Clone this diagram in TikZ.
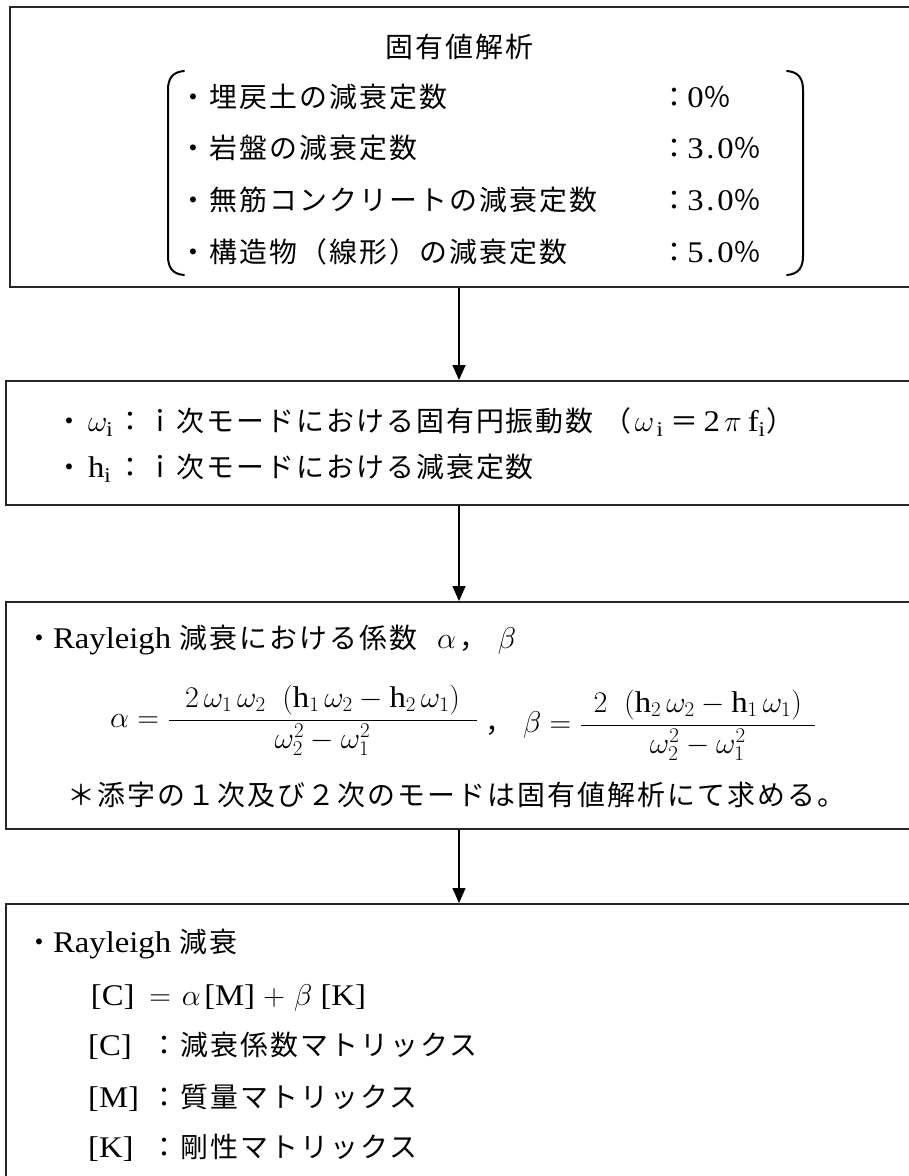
\RequirePackage{fix-cm}
\documentclass[tikz,border=0pt]{standalone}
\usepackage{amsmath}
\usepackage{fontspec}
\setmainfont{Noto Sans CJK JP}[Scale=0.93,LetterSpace=7.5]
\newfontfamily\lat{Liberation Serif}[FakeStretch=1.09]
\usetikzlibrary{arrows.meta}
\newcommand{\hc}[1]{\makebox[15pt][c]{\lat #1}}
\newcommand{\hh}{\text{\lat h}}
\newcommand{\ii}{\text{\lat i}}
\tikzset{
  box/.style={draw=black!85,line width=2.2pt,inner sep=0pt,anchor=north west},
  flow/.style={-{Triangle[length=15pt,width=13pt]},line width=1.6pt},
  txt/.style={anchor=west,inner sep=0pt,text height=24.5pt,text depth=3.4pt,font=\fontsize{30}{36}\selectfont},
  ctxt/.style={txt,anchor=center},
  paren/.style={line width=2pt,line cap=round}
}
\begin{document}
\begin{tikzpicture}[x=1pt,y=-1pt]
\useasboundingbox (0,0) rectangle (909,1176);
\begin{scope}
\clip (0,0) rectangle (909,1176);
% boxes
\node[box,minimum width=925pt,minimum height=280pt] (b1) at (9,6) {};
\node[box,minimum width=927pt,minimum height=124pt] (b2) at (5,380) {};
\node[box,minimum width=927pt,minimum height=227pt] (b3) at (5,601) {};
\node[box,minimum width=927pt,minimum height=297pt] (b4) at (5,903) {};
\coordinate (ax) at (459,0);
% arrows
\draw[flow] (b1.south -| ax) -- (b2.north -| ax);
\draw[flow] (b2.south -| ax) -- (b3.north -| ax);
\draw[flow] (b3.south -| ax) -- (b4.north -| ax);
% box 1
\node[ctxt] (t1) at (459,47) {固有値解析};
\draw[paren] (184,71) .. controls (172,72) and (168,79) .. (168,90) -- (168,256) .. controls (168,267) and (172,274) .. (184,275);
\draw[paren] (787,71) .. controls (799,72) and (803,79) .. (803,90) -- (803,256) .. controls (803,267) and (799,274) .. (787,275);
\node[txt] (l1) at (179,97) {・埋戻土の減衰定数};
\node[txt] (l2) at (179,148) {・岩盤の減衰定数};
\node[txt] (l3) at (179,200) {・無筋コンクリートの減衰定数};
\node[txt] (l4) at (179,252) {・構造物（線形）の減衰定数};
\node[txt] (v1) at (660,97) {：\hc{0}％};
\node[txt] (v2) at (660,148) {：\hc{3}\hc{.}\hc{0}％};
\node[txt] (v3) at (660,200) {：\hc{3}\hc{.}\hc{0}％};
\node[txt] (v4) at (660,252) {：\hc{5}\hc{.}\hc{0}％};
% box 2
\node[txt] (m1) at (55,421) {・\makebox[33pt][l]{\hspace{5pt}$\omega_{\ii}$}：ｉ次モードにおける固有円振動数\hspace{10pt}（\hspace{3pt}\makebox[36pt][l]{$\omega_{\,\ii}$}＝\hspace{5pt}{\lat 2}\hspace{4pt}$\pi$\hspace{6pt}{\lat f}$_{\ii}$\hspace{1pt}）};
\node[txt] (m2) at (55,467) {・\makebox[33pt][l]{\hspace{5pt}{\lat h}$_{\ii}$}：ｉ次モードにおける減衰定数};
% box 3
\node[txt] (r1) at (25,638) {・{\lat Rayleigh}\hspace{8pt}減衰における係数\hspace{20pt}$\alpha$\hspace{4pt}，\hspace{10pt}$\beta$};
\node[inner sep=0pt,anchor=west,font=\fontsize{30}{36}\selectfont] (fa) at (110,720) {$\alpha=\dfrac{\makebox[308pt]{$2\,\omega_1\,\omega_2\;\;(\hh_1\,\omega_2-\hh_2\,\omega_1)$}}{\omega_2^2-\omega_1^2}$};
\node[txt] (fb) at (485,722) {，\hspace{10pt}$\beta=\dfrac{\makebox[234pt]{$2\;\;(\hh_2\,\omega_2-\hh_1\,\omega_1)$}}{\omega_2^2-\omega_1^2}$};
\node[txt] (r3) at (67,795) {＊添字の１次及び２次のモードは固有値解析にて求める。};
% box 4
\node[txt] (k1) at (25,942) {・{\lat Rayleigh}\hspace{8pt}減衰};
\node[txt] (k2) at (85,995) {\makebox[55pt][c]{\lat [C]}\makebox[40pt][c]{$=$}\makebox[22pt][c]{$\alpha$}\makebox[55pt][c]{\lat [M]}\makebox[34pt][c]{$+$}\makebox[24pt][c]{$\beta$}\makebox[56pt][c]{\lat [K]}};
\node[txt] (k3) at (85,1045) {\makebox[65pt][l]{\hspace{3pt}\lat [C]}：減衰係数マトリックス};
\node[txt] (k4) at (85,1097) {\makebox[65pt][l]{\hspace{3pt}\lat [M]}：質量マトリックス};
\node[txt] (k5) at (85,1147) {\makebox[65pt][l]{\hspace{3pt}\lat [K]}：剛性マトリックス};
\end{scope}
\end{tikzpicture}
\end{document}
